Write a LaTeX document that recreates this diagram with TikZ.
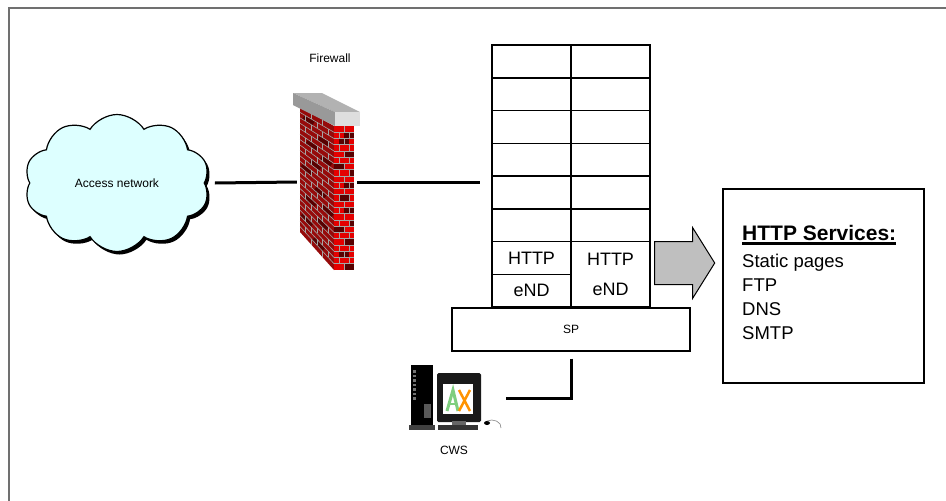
\documentclass[tikz,border=0pt]{standalone}
\usepackage{fontspec}
\setmainfont{Liberation Sans}
\usetikzlibrary{positioning}
\usetikzlibrary{shapes.symbols,shapes.arrows}
\usetikzlibrary{shadows}
\newcommand{\lblfont}{\fontsize{12}{14}\selectfont}
\newcommand{\cellfont}{\fontsize{18}{30}\selectfont}
\newcommand{\svcfont}{\fontsize{18.5}{24}\selectfont}
\newcommand{\headfont}{\fontsize{21}{24}\selectfont\bfseries}
\definecolor{cloudcyan}{RGB}{221,255,255}
\definecolor{brickred}{RGB}{228,0,0}
\definecolor{brickshade}{RGB}{150,10,10}
\definecolor{brickdark}{RGB}{88,0,0}
\definecolor{mortar}{RGB}{165,165,165}
\definecolor{framegray}{RGB}{112,112,112}
\tikzset{
	wire/.style={line width=3pt},
	cell/.style={
		draw, line width=1.5pt,
		minimum width=79pt,
		minimum height=32.75pt,
		inner sep=0pt, outer sep=0pt,
		font=\cellfont},
	spbox/.style={draw, line width=1.5pt, minimum width=238pt, minimum height=43pt, font=\lblfont},
	lbl/.style={font=\lblfont},
	netcloud/.style={
		cloud, cloud puffs=10, cloud puff arc=115, aspect=1.35,
		draw, line width=1.2pt,
		fill=cloudcyan,
		minimum width=185pt, minimum height=137pt,
		font=\lblfont,
		drop shadow={shadow xshift=2.5pt, shadow yshift=-3pt, fill=black, opacity=1}},
	bigarrow/.style={
		single arrow, draw, line width=1pt, fill=black!25,
		minimum height=60pt,
		inner xsep=0pt, inner ysep=21pt,
		single arrow head extend=14pt,
		single arrow tip angle=116,
		single arrow head indent=0pt},
	svcbox/.style={draw, line width=1.5pt, minimum width=201pt, minimum height=194pt},
}

\begin{document}
\begin{tikzpicture}[x=1pt, y=-1pt]
	\useasboundingbox (0,0) rectangle (946,501);
	\draw[framegray, line width=2pt] (9,501) -- (9,8) -- (946,8);

	% access network
	\node[netcloud] (net) at (117,183) {Access network};

	% firewall: slanted brick side, front bricks, stone cap
	\node[minimum width=60pt, minimum height=178pt, inner sep=0pt] (fw) at (327,182) {};
	\node[lbl] (fwlabel) at (330,58) {Firewall};
	\fill[brickshade] (300,107) -- (334,126) -- (334,270) -- (300,232) -- cycle;
	\foreach \i/\u in {1/0.1,3/0.55,5/0.2,6/0.62,8/0.3,10/0.05,12/0.45,14/0.66,15/0.15,17/0.5,19/0.05,21/0.4}
		\draw[brickdark, line width=4.5pt] ({300+34*\u},{107+(\i+.5)*125/23+\u*(19+(\i+.5)*19/23)}) -- ({300+34*(\u+.3)},{107+(\i+.5)*125/23+(\u+.3)*(19+(\i+.5)*19/23)});
	\foreach \i in {1,...,22}
		\draw[mortar, line width=.6pt] (300,{107+\i*125/23}) -- (334,{126+\i*144/23});
	\foreach \i in {0,...,22} {
		\ifodd\i \def\joints{0.17,0.5,0.83}\else\def\joints{0.33,0.67}\fi
		\foreach \u in \joints
			\draw[mortar, line width=.6pt] ({300+34*\u},{107+\i*125/23+\u*(19+\i*19/23)}) -- ({300+34*\u},{107+(\i+1)*125/23+\u*(19+(\i+1)*19/23)});
	}
	\fill[brickred] (334,126) rectangle (354,270);
	\foreach \i/\x in {1/344,2/339,4/344,6/334,7/349,9/344,11/339,13/344,15/349,16/334,18/344,20/339,22/344}
		\fill[brickdark] (\x,{126+\i*144/23}) rectangle ({min(\x+10,354)},{126+(\i+1)*144/23});
	\foreach \i in {1,...,22}
		\draw[mortar, line width=.8pt] (334,{126+\i*144/23}) -- (354,{126+\i*144/23});
	\foreach \i in {0,...,22} {
		\ifodd\i
			\draw[mortar, line width=.8pt] (339,{126+\i*144/23}) -- (339,{126+(\i+1)*144/23}) (349,{126+\i*144/23}) -- (349,{126+(\i+1)*144/23});
		\else
			\draw[mortar, line width=.8pt] (344,{126+\i*144/23}) -- (344,{126+(\i+1)*144/23});
		\fi
	}
	\fill[black!30] (293,93) -- (322,93) -- (360,112) -- (335,112) -- cycle;
	\fill[black!40] (293,93) -- (335,112) -- (335,126) -- (293,105) -- cycle;
	\fill[black!13] (335,112) rectangle (360,126);

	% node frames: six empty rows, then the services rows
	\node[cell] (a1) at (531.5,61.4) {};
	\node[cell, right=0pt of a1] (b1) {};
	\foreach \r [remember=\r as \p (initially 1)] in {2,...,6} {
		\node[cell, below=0pt of a\p] (a\r) {};
		\node[cell, right=0pt of a\r] (b\r) {};
	}
	\node[cell, below=0pt of a6] (httpA) {HTTP};
	\node[cell, below=0pt of httpA] (endA) {eND};
	\node[cell, minimum height=65.5pt, align=center, anchor=north] (srvB) at (b6.south) {HTTP\\eND};
	\node[spbox, anchor=north] (sp) at (endA.south east) {SP};

	% control workstation
	\node[minimum width=92pt, minimum height=67pt, inner sep=0pt] (cws) at (454,398.5) {};
	\node[lbl, below=10pt of cws] (cwslabel) {CWS};
	\fill[black] (411,365) rectangle (433,428);
	\fill[black!75] (409,425) rectangle (435,430);
	\foreach \k in {0,...,6}
		\fill[black!55] (413,{370+4.5*\k}) rectangle (416,{372.5+4.5*\k});
	\fill[black!65] (424,404) rectangle (431,418);
	\fill[black!90, rounded corners=1.5pt] (437,373) rectangle (481,422);
	\fill[black!60] (452,421) rectangle (466,425);
	\fill[white] (443,384) rectangle (473,414);
	\draw[green!45!gray!70, line width=3pt] (447,411) -- (453,390) -- (458,411);
	\draw[green!45!gray!70, line width=2pt] (449,404) -- (457,404);
	\draw[orange!85!yellow, line width=2.5pt] (459,390) -- (470,411) (470,390) -- (459,411);
	\fill[black!80] (438,425) rectangle (478,430);
	\fill[black] (487,423) ellipse (3pt and 2pt);
	\draw[black!50, line width=.6pt] (487,421) .. controls (493,418) and (502,422) .. (501,428);

	% services
	\node[bigarrow] (arr) at (678,263) {};
	\node[svcbox] (svc) at (823.5,286) {};
	\node[anchor=base west, font=\headfont, inner sep=0pt] (svchead) at (742,240) {HTTP Services:};
	\draw[line width=3pt] ([yshift=-3.5pt]svchead.south west) -- ([yshift=-3.5pt]svchead.south east);
	\node[anchor=north west, font=\svcfont, align=left, inner sep=0pt] (svclist) at (742,253.5) {Static pages\\FTP\\DNS\\SMTP};

	% links
	\draw[wire] ([xshift=10pt]net.east) -- (fw.west);
	\draw[wire] (fw.east) -- ([xshift=-12pt]fw.east -| a5.west);
	\draw[wire] ([yshift=-7pt]sp.south) |- ([xshift=6pt]cws.east);
\end{tikzpicture}
\end{document}
